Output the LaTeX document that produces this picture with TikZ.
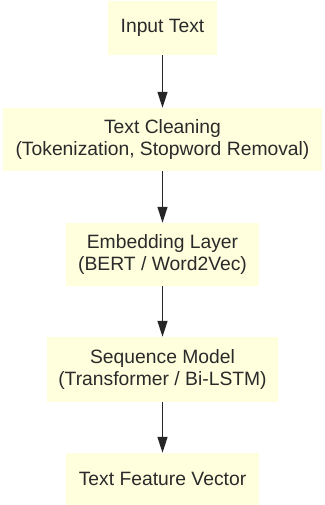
\documentclass[tikz,border=0pt]{standalone}
\usepackage{fontspec}
\setmainfont{Liberation Sans}
\usetikzlibrary{arrows.meta}
\definecolor{boxfill}{HTML}{FFFFDE}
\definecolor{txt}{HTML}{2A2A2A}
\begin{document}
\begin{tikzpicture}[x=1pt,y=-1pt,
  stagebox/.style={fill=boxfill, draw=none, inner sep=0pt, text=txt,
    font=\fontsize{19.3}{21.5}\selectfont, align=center},
  flow/.style={draw=black!85, line width=1.3pt, -{Triangle[length=16pt,width=10pt]}}]
\useasboundingbox (0,0) rectangle (324,505);
\node[stagebox, minimum width=109pt, minimum height=54pt] (n1) at (162.5,28) {Input Text};
\node[stagebox, minimum width=319pt, minimum height=63pt] (n2) at (162.5,139.5) {Text Cleaning\\(Tokenization, Stopword Removal)};
\node[stagebox, minimum width=193pt, minimum height=63pt] (n3) at (162.5,254.5) {Embedding Layer\\(BERT / Word2Vec)};
\node[stagebox, minimum width=231pt, minimum height=65pt] (n4) at (162.5,369.5) {Sequence Model\\(Transformer / Bi-LSTM)};
\node[stagebox, minimum width=193pt, minimum height=52pt] (n5) at (162.5,479) {Text Feature Vector};
\draw[flow] (n1) -- (n2);
\draw[flow] (n2) -- (n3);
\draw[flow] (n3) -- (n4);
\draw[flow] (n4) -- (n5);
\end{tikzpicture}
\end{document}
